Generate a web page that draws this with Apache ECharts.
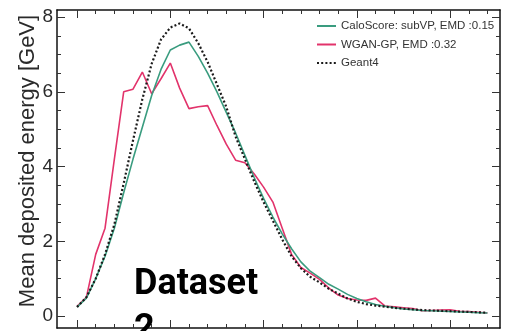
<!DOCTYPE html>
<html>
<head>
    <meta charset="UTF-8">
    <script type="text/javascript" src="https://cdn.jsdelivr.net/npm/echarts@6/dist/echarts.min.js"></script>
    <style>
        html, body { margin: 0; padding: 0; background: #fff; }
    </style>
</head>
<body>
    <div style="height: 331px;width: 510px" id="myDiv"></div>
    <script type="text/javascript">
        // layer index (x axis)
        var layers = [0, 1, 2, 3, 4, 5, 6, 7, 8, 9, 10, 11, 12, 13, 14, 15, 16, 17, 18, 19, 20, 21, 22,
            23, 24, 25, 26, 27, 28, 29, 30, 31, 32, 33, 34, 35, 36, 37, 38, 39, 40, 41, 42, 43, 44];

        // mean deposited energy per layer [GeV]
        var caloScore = [0.24, 0.48, 1.0, 1.6, 2.35, 3.3, 4.2, 5.05, 5.9, 6.6, 7.12, 7.25, 7.33, 6.95, 6.5,
            6.0, 5.45, 4.9, 4.3, 3.7, 3.15, 2.65, 2.2, 1.8, 1.45, 1.2, 1.03, 0.85, 0.72, 0.58, 0.47, 0.38,
            0.31, 0.26, 0.22, 0.19, 0.17, 0.15, 0.14, 0.13, 0.12, 0.11, 0.1, 0.09, 0.08];
        var wgan = [0.26, 0.5, 1.65, 2.35, 4.2, 6.0, 6.07, 6.53, 5.95, 6.35, 6.77, 6.1, 5.55, 5.6, 5.63,
            5.1, 4.6, 4.17, 4.1, 3.8, 3.45, 3.05, 2.35, 1.65, 1.3, 1.15, 0.98, 0.75, 0.56, 0.47, 0.43, 0.42,
            0.48, 0.27, 0.25, 0.22, 0.2, 0.14, 0.15, 0.16, 0.17, 0.13, 0.12, 0.1, 0.08];
        var geant4 = [0.24, 0.5, 1.0, 1.65, 2.45, 3.55, 4.7, 5.8, 6.75, 7.4, 7.72, 7.83, 7.7, 7.3, 6.8,
            6.2, 5.6, 4.8, 4.2, 3.6, 3.05, 2.55, 2.05, 1.6, 1.28, 1.05, 0.9, 0.73, 0.6, 0.47, 0.38, 0.32,
            0.28, 0.25, 0.22, 0.2, 0.18, 0.16, 0.15, 0.14, 0.13, 0.12, 0.11, 0.1, 0.09];

        var xMajor = [0, 10, 20, 30, 40];
        var xMinor = [2, 4, 6, 8, 12, 14, 16, 18, 22, 24, 26, 28, 32, 34, 36, 38, 42, 44];
        var yMajor = [0, 2, 4, 6, 8];
        var yMinor = [0.5, 1, 1.5, 2.5, 3, 3.5, 4.5, 5, 5.5, 6.5, 7, 7.5];

        var names = ['CaloScore: subVP, EMD :0.15', 'WGAN-GP, EMD :0.32', 'Geant4'];

        function pairs(vals) {
            var out = [];
            for (var i = 0; i < layers.length; i++) {
                out.push([layers[i], vals[i]]);
            }
            return out;
        }

        var X_MIN = -2.15, X_MAX = 45.35, Y_MIN = -0.32, Y_MAX = 8.19;

        function xAx(pos, ticks, len, show) {
            return {
                type: 'value', position: pos, min: X_MIN, max: X_MAX,
                axisLine: {show: show, onZero: false, lineStyle: {color: '#111', width: 1.5}},
                axisTick: {show: true, inside: true, length: len, customValues: ticks,
                    lineStyle: {color: '#333', width: 1}},
                axisLabel: {show: false},
                splitLine: {show: false}
            };
        }
        function yAx(pos, ticks, len, show, labels) {
            return {
                type: 'value', position: pos, min: Y_MIN, max: Y_MAX,
                axisLine: {show: show, onZero: false, lineStyle: {color: '#111', width: 1.5}},
                axisTick: {show: true, inside: true, length: len, customValues: ticks,
                    lineStyle: {color: '#333', width: 1}},
                axisLabel: {show: labels, customValues: yMajor, fontFamily: 'Liberation Sans',
                    fontSize: 19, color: '#2a2a2a', margin: 4},
                splitLine: {show: false}
            };
        }

        var chart = echarts.init(document.getElementById("myDiv"));

        var option = {
            animation: false,
            grid: {left: 57, right: 10, top: 10, bottom: 3},
            legend: {
                orient: 'vertical', left: 311, top: 15,
                itemWidth: 19, itemHeight: 11, itemGap: 6.5,
                itemStyle: {opacity: 0},
                textStyle: {fontFamily: 'Liberation Sans', fontSize: 11.5, color: '#333'},
                data: names
            },
            xAxis: [
                xAx('bottom', xMajor, 8, true),
                xAx('bottom', xMinor, 4, false),
                xAx('top', xMajor, 8, true),
                xAx('top', xMinor, 4, false)
            ],
            yAxis: [
                yAx('left', yMajor, 8, true, true),
                yAx('left', yMinor, 4, false, false),
                yAx('right', yMajor, 8, true, false),
                yAx('right', yMinor, 4, false, false)
            ],
            graphic: [{
                // y axis title
                type: 'text', x: 27.5, y: 161, rotation: Math.PI / 2,
                style: {
                    text: 'Mean deposited energy [GeV]', fontFamily: 'Liberation Sans',
                    fontSize: 22, fill: '#2a2a2a', align: 'center', verticalAlign: 'middle'
                }
            }, {
                type: 'text', left: 134, top: 262,
                style: {
                    text: 'Dataset\n2', fontFamily: 'Roboto', fontWeight: 'bold',
                    fontSize: 36, lineHeight: 45, fill: '#000'
                },
                z: 100
            }],
            series: [
                {
                    name: names[0], type: 'line', data: pairs(caloScore), symbol: 'none', z: 3,
                    lineStyle: {color: '#3a9c7f', width: 1.6}, itemStyle: {color: '#3a9c7f'}
                },
                {
                    name: names[1], type: 'line', data: pairs(wgan), symbol: 'none', z: 2,
                    lineStyle: {color: '#e2336b', width: 1.6}, itemStyle: {color: '#e2336b'}
                },
                {
                    name: names[2], type: 'line', data: pairs(geant4), symbol: 'none', z: 4,
                    lineStyle: {color: '#1a1a1a', width: 2.2, type: [2, 2.2]}, itemStyle: {color: '#1a1a1a'}
                }
            ]
        };
        chart.setOption(option);
    </script>
</body>
</html>
